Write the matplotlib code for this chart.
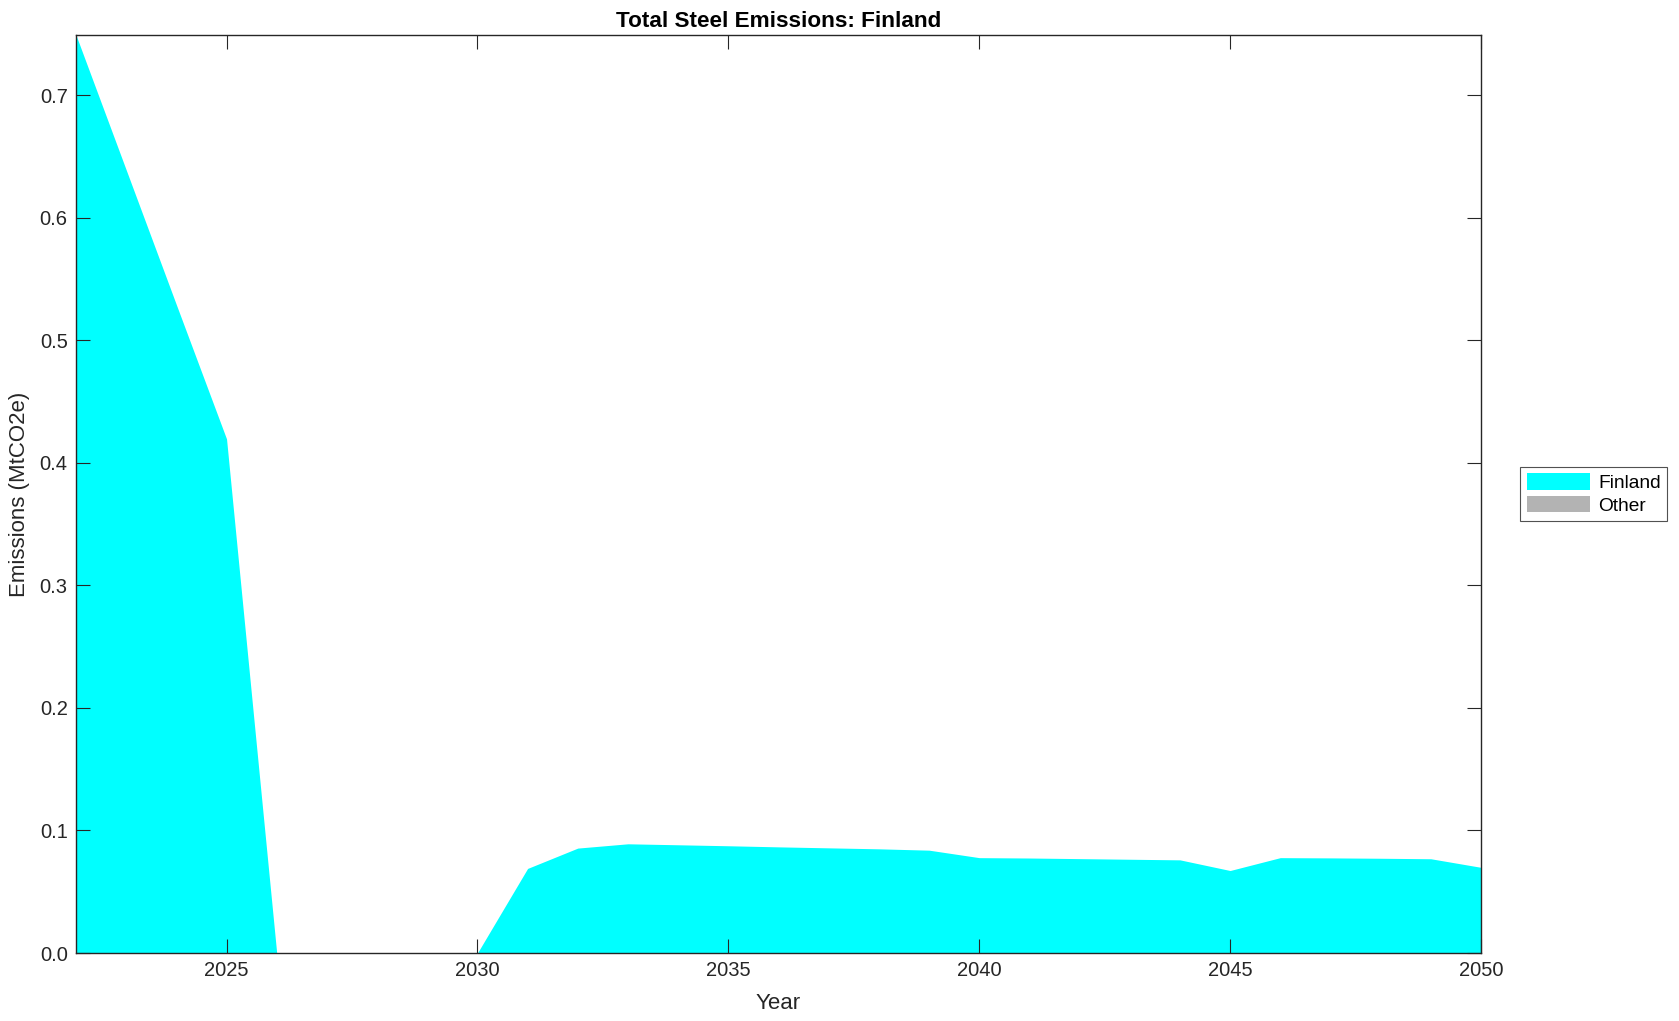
import matplotlib
matplotlib.use("Agg")
import matplotlib.pyplot as plt
import numpy as np

plt.rcParams['font.family'] = ['Liberation Sans', 'DejaVu Sans']

years = [2022, 2023, 2024, 2025, 2026, 2027, 2028, 2029, 2030, 2031, 2032, 2033,
         2034, 2035, 2036, 2037, 2038, 2039, 2040, 2041, 2042, 2043, 2044, 2045,
         2046, 2047, 2048, 2049, 2050]
finland = [0.749, 0.639, 0.529, 0.4195, 0.0, 0.0, 0.0, 0.0, 0.0, 0.069, 0.0856, 0.0891,
           0.0883, 0.0875, 0.0866, 0.0858, 0.0850, 0.0839, 0.0778, 0.0775, 0.0770, 0.0765,
           0.0760, 0.0673, 0.0778, 0.0776, 0.0773, 0.0769, 0.0699]
other = [0.0] * len(years)

series_names = ["Finland", "Other"]
colors = ["#00FFFF", "#B3B3B3"]
xticks = [2025, 2030, 2035, 2040, 2045, 2050]
yticks = [0.0, 0.1, 0.2, 0.3, 0.4, 0.5, 0.6, 0.7]

W, H = 1679, 1021
fig = plt.figure(figsize=(W / 100, H / 100), dpi=100)
ax = fig.add_axes([76 / W, 1 - 953 / H, (1481 - 76) / W, (953 - 35) / H])

tc = "#262626"
x = np.array(years)
f = np.array(finland)
o = np.array(other)
ax.fill_between(x, 0, f, color=colors[0], linewidth=0, label=series_names[0])
ax.fill_between(x, f, f + o, color=colors[1], linewidth=0, label=series_names[1])

ax.set_xlim(2022, 2050)
ax.set_ylim(0, 0.749)
ax.set_xticks(xticks)
ax.set_yticks(yticks)
ax.set_yticklabels([f"{v:.1f}" for v in yticks])
ax.tick_params(direction='in', length=10, width=0.8, top=True, right=True,
               labelsize=14.5, colors=tc, pad=6)
for s in ax.spines.values():
    s.set_color(tc)
    s.set_linewidth(1.0)

ax.set_title("Total Steel Emissions: Finland", fontsize=16.2, fontweight='bold',
             color='black', pad=6)
ax.set_xlabel("Year", fontsize=16, color=tc, labelpad=9)
ax.set_ylabel("Emissions (MtCO2e)", fontsize=16, color=tc, labelpad=7)

leg = ax.legend(loc='center left', bbox_to_anchor=(1.028, 0.5), fontsize=13.8,
                frameon=True, fancybox=False, handlelength=3.3, handleheight=0.95,
                borderpad=0.35, labelspacing=0.2, handletextpad=0.4, borderaxespad=0)
leg.get_frame().set_edgecolor(tc)
leg.get_frame().set_linewidth(0.8)

fig.savefig("out.png", dpi=100)
